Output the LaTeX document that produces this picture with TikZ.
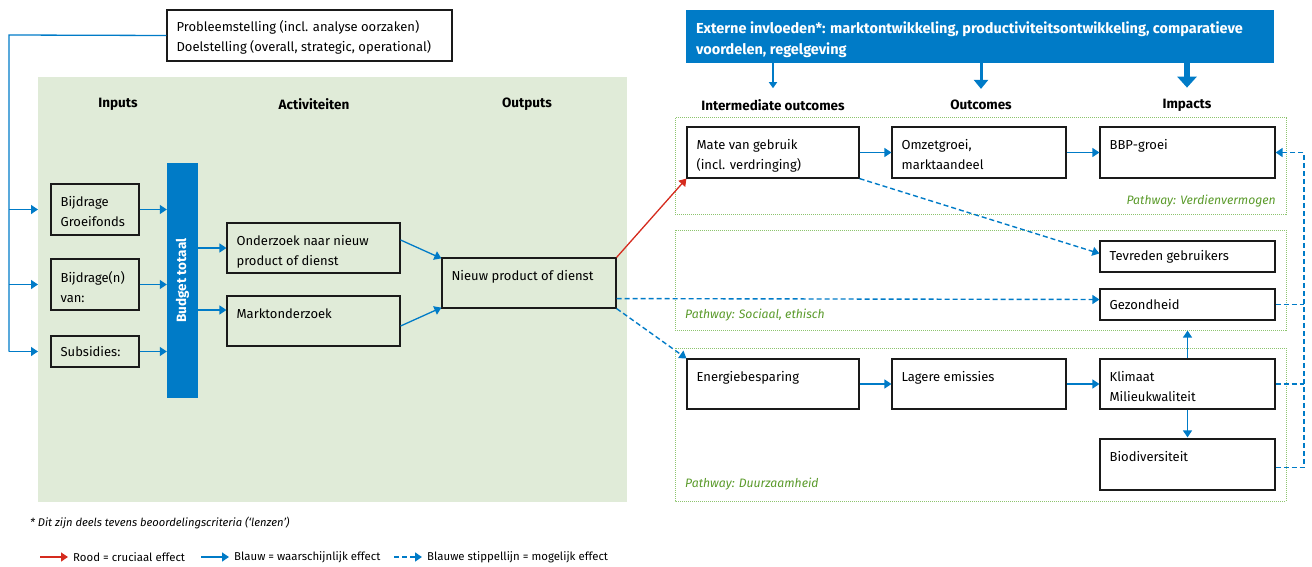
\documentclass[tikz,border=0pt]{standalone}
\usepackage{fontspec}
\setmainfont{Fira Sans}
\usetikzlibrary{arrows.meta,fit}
\definecolor{rblue}{HTML}{007BC7}
\definecolor{rred}{HTML}{D52B1E}
\definecolor{bggreen}{HTML}{E0EBD8}
\definecolor{dotgreen}{HTML}{8DC46E}
\definecolor{labgreen}{HTML}{5A9A2A}
\definecolor{boxline}{HTML}{1A1A1A}
\newcommand\fbody{\fontsize{13}{20}\selectfont}
\newcommand\fhead{\fontsize{13.5}{15}\selectfont\bfseries}
\newcommand\mybox[6]{%
  \node[box, fit={(#2,#3) (#4,#5)}] (#1) {};
  \node[txt, anchor=north west] at ([shift={(10,13)}]#1.north west) {#6};}
\tikzset{
  box/.style={draw=boxline, line width=1.2pt, inner sep=0pt},
  txt/.style={font=\fbody, align=left, inner sep=0pt, text=black},
  head/.style={font=\fhead, inner sep=0pt},
  arr/.style={rblue, line width=1.3pt, -{Triangle[width=9pt,length=7pt]}},
  darr/.style={rblue, line width=1.4pt, dash pattern=on 5pt off 3pt, -{Triangle[width=9pt,length=7pt]}},
  dline/.style={rblue, line width=1.4pt, dash pattern=on 5pt off 3pt},
  rarr/.style={rred, line width=1.3pt, -{Triangle[width=9pt,length=7pt]}},
  pdot/.style={dotgreen, line width=1pt, dash pattern=on 1pt off 1pt},
  plab/.style={font=\fontsize{12.2}{14}\selectfont\itshape, text=labgreen, inner sep=0pt},
}
\begin{document}
\begin{tikzpicture}[x=1pt,y=-1pt]
\useasboundingbox (0,0) rectangle (1312,567);
% green background
\fill[bggreen] (38,77) rectangle (627,502);
% problem box
\node[box, fit={(167,10) (452,61)}] (prob) {};
\node[txt, anchor=north west] at ([shift={(10,10.5)}]prob.north west) {Probleemstelling (incl. analyse oorzaken)\\Doelstelling (overall, strategic, operational)};
% headings left
\node[head] (hIn) at (118,104) {Inputs};
\node[head] (hAct) at (314,104) {Activiteiten};
\node[head] (hOutp) at (527,104) {Outputs};
% inputs
\mybox{bij1}{51}{184}{139}{235}{Bijdrage\\Groeifonds}
\mybox{bij2}{51}{259}{139}{310}{Bijdrage(n)\\van:}
\node[box, fit={(51,336) (139,367)}] (subs) {};
\node[txt, anchor=west] at ([xshift=10pt]subs.west) {Subsidies:};
% budget bar
\node[fill=rblue, inner sep=0pt, fit={(167,163) (198,398)}] (bar) {};
\node[rotate=90, text=white, font=\fhead, inner sep=0pt] at (bar.center) {Budget totaal};
% activities
\mybox{onder}{227}{223}{400}{273}{Onderzoek naar nieuw\\product of dienst}
\mybox{markt}{227}{296}{400}{346}{Marktonderzoek}
% output
\mybox{nieuw}{442}{258}{616}{308}{Nieuw product of dienst}
% left trunk
\coordinate (trunk) at (9,35);
\coordinate (gedge) at (38,77);
\draw[rblue, line width=1.3pt] (prob.west) -- (trunk) -- (trunk |- subs.west);
\draw[arr] (trunk |- bij1.west) -- (gedge |- bij1.west);
\draw[arr] (trunk |- bij2.west) -- (gedge |- bij2.west);
\draw[arr] (trunk |- subs.west) -- (gedge |- subs.west);
\draw[arr] (bij1.east) -- (bar.west |- bij1.east);
\draw[arr] (bij2.east) -- (bar.west |- bij2.east);
\draw[arr] (subs.east) -- (bar.west |- subs.east);
\draw[arr] (bar.east |- onder.west) -- (onder.west);
\draw[arr] ([yshift=11pt]bar.east |- markt.west) -- ([yshift=11pt]markt.west);
\draw[arr] ([yshift=8pt]onder.east) -- ([yshift=-1pt]nieuw.north west);
\draw[arr] ([yshift=-5pt]markt.east) -- ([yshift=1pt]nieuw.south west);
% external influences
\node[fill=rblue, inner sep=0pt, fit={(686,10) (1274,63)}] (ext) {};
\node[anchor=north west, inner sep=0pt, align=left, text=white, font=\fontsize{14.5}{21}\selectfont\bfseries] at ([shift={(10,12)}]ext.north west) {Externe invloeden*: marktontwikkeling, productiviteitsontwikkeling, comparatieve\\voordelen, regelgeving};
\node[head] (hIO) at (773,105) {Intermediate outcomes};
\node[head] (hOut) at (981,105) {Outcomes};
\node[head] (hImp) at (1187,105) {Impacts};
\draw[rblue, line width=1.5pt, -{Triangle[width=8pt,length=6pt]}] (ext.south -| hIO) -- ([yshift=11pt]hIO.north);
\draw[rblue, line width=3pt, -{Triangle[width=14pt,length=9pt]}] (ext.south -| hOut) -- ([yshift=11pt]hOut.north);
\draw[rblue, line width=6pt, -{Triangle[width=19pt,length=11pt]}] (ext.south -| hImp) -- ([yshift=11pt]hImp.north);
% pathways
\draw[pdot] (675,118) rectangle (1286,214);
\draw[pdot] (675,230) rectangle (1286,330);
\draw[pdot] (675,348) rectangle (1286,501);
\node[plab, anchor=east] (p1) at (1276,201) {Pathway: Verdienvermogen};
\node[plab, anchor=west] (p2) at (685,315) {Pathway: Sociaal, ethisch};
\node[plab, anchor=west] (p3) at (685,484) {Pathway: Duurzaamheid};
% right boxes
\mybox{mate}{687}{127}{859}{178}{Mate van gebruik\\(incl. verdringing)}
\mybox{omzet}{892}{127}{1066}{178}{Omzetgroei,\\marktaandeel}
\mybox{bbp}{1100}{127}{1275}{178}{BBP-groei}
\node[box, fit={(1100,241) (1275,272)}] (tev) {};
\node[txt, anchor=west] at ([xshift=10pt]tev.west) {Tevreden gebruikers};
\node[box, fit={(1100,289) (1275,320)}] (gez) {};
\node[txt, anchor=west] at ([xshift=10pt]gez.west) {Gezondheid};
\mybox{energ}{687}{359}{859}{409}{Energiebesparing}
\mybox{lager}{892}{359}{1066}{409}{Lagere emissies}
\mybox{klim}{1100}{359}{1275}{409}{Klimaat\\Milieukwaliteit}
\mybox{bio}{1100}{439}{1275}{490}{Biodiversiteit}
% right connectors
\draw[arr] (mate.east) -- (omzet.west);
\draw[arr] (omzet.east) -- (bbp.west);
\draw[arr] (energ.east) -- (lager.west);
\draw[arr] (lager.east) -- (klim.west);
\draw[arr] (klim.north) -- ([yshift=-10pt]gez.south);
\draw[arr] (klim.south) -- ([yshift=1pt]bio.north);
\draw[rarr] (nieuw.north east) -- (mate.south west);
\draw[darr] ([yshift=10pt]nieuw.south east) -- ([yshift=5pt]gez.west);
\draw[darr] (nieuw.south east) -- (energ.north west);
\draw[darr] (mate.south east) -- ([yshift=3pt]tev.west);
\coordinate (rr) at (1304,152);
\draw[darr] ([yshift=-3pt]bio.east) -- ([yshift=-3pt]bio.east -| rr) |- (bbp.east);
\draw[dline] (gez.east) -- (gez.east -| rr);
\draw[dline] (klim.east) -- (klim.east -| rr);
% footnote and legend
\node[anchor=west, inner sep=0pt, font=\fontsize{11.2}{13}\selectfont\itshape] (fn) at (30,523) {* Dit zijn deels tevens beoordelingscriteria (‘lenzen’)};
\coordinate (l1a) at (40,557); \coordinate (l1b) at (68,557);
\coordinate (l2a) at (201,557); \coordinate (l2b) at (229,557);
\coordinate (l3a) at (394,557); \coordinate (l3b) at (422,557);
\draw[rarr] (l1a) -- (l1b);
\draw[arr] (l2a) -- (l2b);
\draw[darr] (l3a) -- (l3b);
\node[anchor=west, inner sep=0pt, font=\fontsize{11.4}{13}\selectfont] at ([xshift=5pt]l1b) {Rood = cruciaal effect};
\node[anchor=west, inner sep=0pt, font=\fontsize{11.4}{13}\selectfont] at ([xshift=5pt]l2b) {Blauw = waarschijnlijk effect};
\node[anchor=west, inner sep=0pt, font=\fontsize{11.4}{13}\selectfont] at ([xshift=5pt]l3b) {Blauwe stippellijn = mogelijk effect};
\end{tikzpicture}
\end{document}
